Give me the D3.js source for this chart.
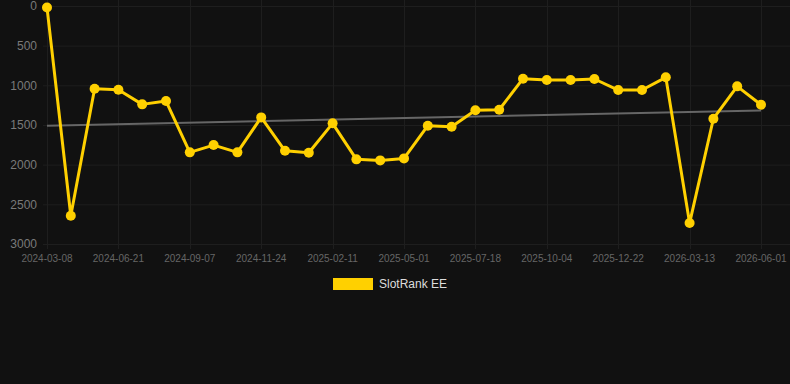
<!DOCTYPE html>
<html>
<head>
<meta charset="utf-8">
<script src="https://cdn.jsdelivr.net/npm/d3@7"></script>
<style>
  body { margin: 0; background: #111111; }
  svg { display: block; font-family: "Liberation Sans", Arial, sans-serif; }
</style>
</head>
<body>
<script>
// dates of each point (every third one is labelled on the axis)
var dates = [
  "2024-03-08", "2024-04-03", "2024-05-29", "2024-06-21", "2024-07-17", "2024-08-12",
  "2024-09-07", "2024-10-03", "2024-10-29", "2024-11-24", "2024-12-20", "2025-01-16",
  "2025-02-11", "2025-03-09", "2025-04-04", "2025-05-01", "2025-05-27", "2025-06-22",
  "2025-07-18", "2025-08-13", "2025-09-08", "2025-10-04", "2025-10-30", "2025-11-26",
  "2025-12-22", "2026-01-17", "2026-02-12", "2026-03-13", "2026-04-08", "2026-05-05",
  "2026-06-01"
];
var rank = [
  20, 2644, 1043, 1055, 1240, 1198, 1845, 1753, 1845, 1404, 1825, 1850,
  1479, 1933, 1946, 1921, 1509, 1522, 1315, 1308, 916, 933, 933, 920,
  1059, 1059, 899, 2736, 1421, 1013, 1245
];
var y_ticks = [0, 500, 1000, 1500, 2000, 2500, 3000];
var series_name = "SlotRank EE";

var width = 790, height = 384;
var svg = d3.select("body").append("svg").attr("width", width).attr("height", height);

var x = d3.scalePoint().domain(d3.range(dates.length)).range([47, 761]);
var y = d3.scaleLinear().domain([0, 3000]).range([6, 244]);

// grid
var grid = svg.append("g");
grid.selectAll(".hg").data(y_ticks).enter().append("line")
  .attr("x1", 43).attr("x2", width)
  .attr("y1", d => y(d) + 0.5).attr("y2", d => y(d) + 0.5)
  .attr("stroke", "#1e1e1e").attr("stroke-width", 1);
var x_tick_idx = d3.range(0, dates.length, 3);
grid.selectAll(".vg").data(x_tick_idx).enter().append("line")
  .attr("x1", d => Math.round(x(d)) + 0.5).attr("x2", d => Math.round(x(d)) + 0.5)
  .attr("y1", 0).attr("y2", 249)
  .attr("stroke", "#1e1e1e").attr("stroke-width", 1);

// y labels
svg.append("g").selectAll("text").data(y_ticks).enter().append("text")
  .attr("x", 37).attr("y", d => y(d)).attr("dy", "0.35em")
  .attr("text-anchor", "end").attr("fill", "#7a7a7a").attr("font-size", 12)
  .text(d => d);

// x labels
svg.append("g").selectAll("text").data(x_tick_idx).enter().append("text")
  .attr("x", d => x(d)).attr("y", 262)
  .attr("text-anchor", "middle").attr("fill", "#666").attr("font-size", 10)
  .text(d => dates[d]);

// trend line (least squares over the series)
var n = rank.length;
var mx = d3.mean(d3.range(n)), my = d3.mean(rank);
var sxy = d3.sum(d3.range(n), i => (i - mx) * (rank[i] - my));
var sxx = d3.sum(d3.range(n), i => (i - mx) * (i - mx));
var slope = sxy / sxx, icpt = my - slope * mx;
svg.append("line")
  .attr("x1", x(0)).attr("y1", y(icpt))
  .attr("x2", x(n - 1)).attr("y2", y(icpt + slope * (n - 1)))
  .attr("stroke", "#666").attr("stroke-width", 2);

// series
var line = d3.line().x((d, i) => x(i)).y(d => y(d));
svg.append("path").datum(rank)
  .attr("d", line).attr("fill", "none")
  .attr("stroke", "#ffd000").attr("stroke-width", 3).attr("stroke-linejoin", "round");
svg.append("g").selectAll("circle").data(rank).enter().append("circle")
  .attr("cx", (d, i) => x(i)).attr("cy", d => y(d)).attr("r", 5)
  .attr("fill", "#ffd000");

// legend
svg.append("rect").attr("x", 333).attr("y", 278).attr("width", 40).attr("height", 12)
  .attr("fill", "#ffd000");
svg.append("text").attr("x", 379).attr("y", 284).attr("dy", "0.35em")
  .attr("fill", "#dddddd").attr("font-size", 12).text(series_name);
</script>
</body>
</html>
